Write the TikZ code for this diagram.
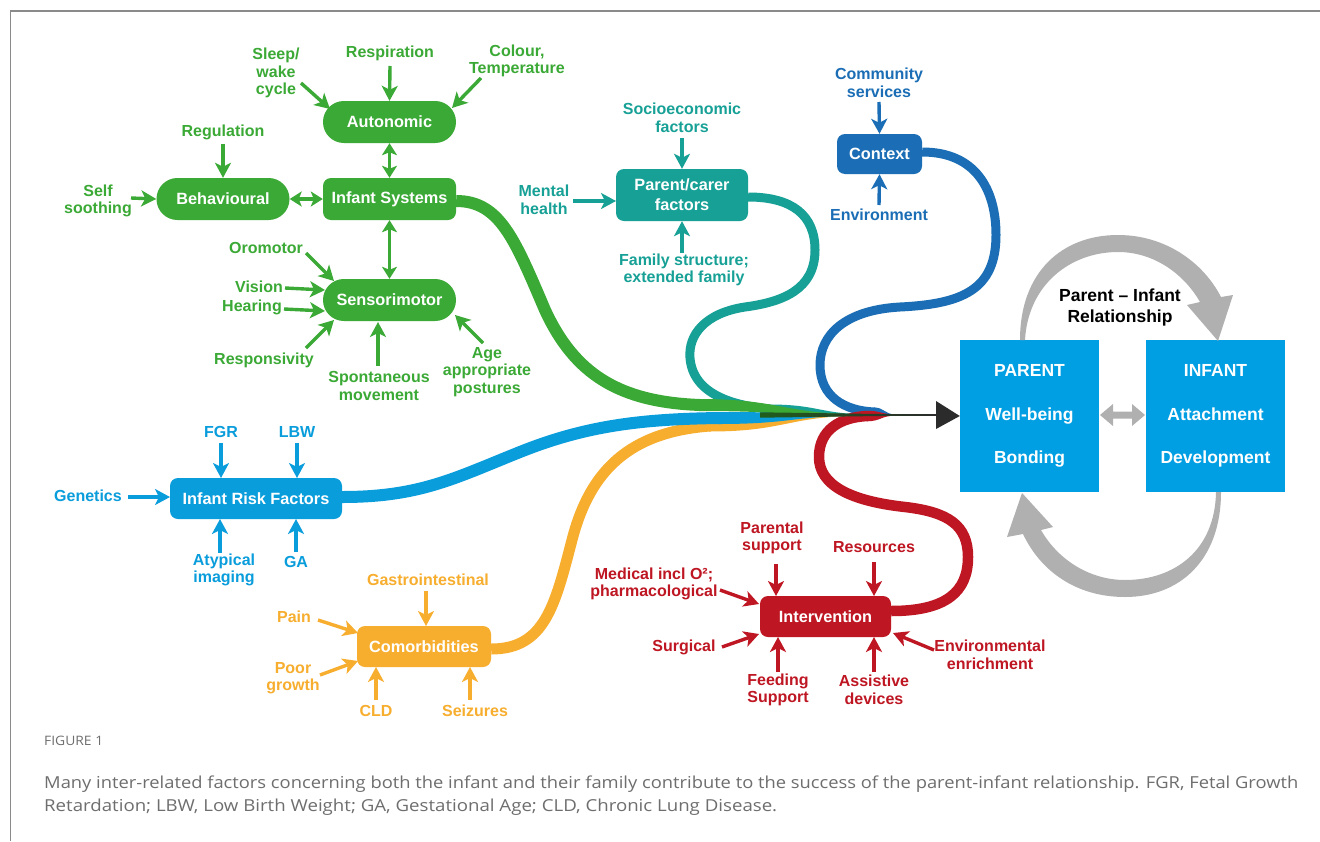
\documentclass[tikz,border=0pt]{standalone}
\usepackage{fontspec}
\setmainfont{Liberation Sans}
\newfontfamily\capfont{Open Sans}
\usetikzlibrary{arrows.meta,calc}
\definecolor{cgreen}{HTML}{3BA935}
\definecolor{cteal}{HTML}{17A196}
\definecolor{cctx}{HTML}{1B6EB5}
\definecolor{crisk}{HTML}{0A9DDC}
\definecolor{cbox}{HTML}{009FE3}
\definecolor{corange}{HTML}{F7AE2F}
\definecolor{cred}{HTML}{BE1622}
\definecolor{cgray}{HTML}{B0B0B0}
\definecolor{ccap}{HTML}{6E6E6E}
\definecolor{cframe}{HTML}{8A8A8A}
\definecolor{cdark}{HTML}{2B2B2B}
% colour, start x, start y, half width, end x
\newcommand\taperto[5]{%
  \fill[#1] (#2,{#3-#4}) .. controls ({(#2+#5)/2},{#3-#4}) and ({(#2+#5)/2},414.3) .. (#5,414.3)
    -- (#5,415.7) .. controls ({(#2+#5)/2},415.7) and ({(#2+#5)/2},{#3+#4}) .. (#2,{#3+#4}) -- cycle;}
\begin{document}
\begin{tikzpicture}[x=1pt,y=-1pt,
  lab/.style={font=\bfseries\fontsize{16}{17.5}\selectfont, align=center, inner sep=0pt},
  box/.style={font=\bfseries\fontsize{16.3}{20}\selectfont, text=white, align=center, inner sep=0pt,
              minimum height=42pt, rounded corners=8pt},
  pill/.style={box, rounded corners=20.9pt, minimum width=133pt},
  arr/.style={line width=3.4pt, -{Stealth[length=15pt,width=16pt,inset=4pt]}},
  darr/.style={line width=3.4pt, {Stealth[length=12pt,width=15pt,inset=3pt]}-{Stealth[length=12pt,width=15pt,inset=3pt]}},
  big/.style={fill=cbox, text=white, font=\bfseries\fontsize{17.5}{43.5}\selectfont, align=center,
              minimum width=139pt, minimum height=152pt, inner sep=0pt}
]
\useasboundingbox (0,0) rectangle (1320,841);
\fill[white] (0,0) rectangle (1320,841);
% frame
\draw[cframe, line width=1.6pt] (10,10.8) -- (1320,10.8);
\draw[cframe, line width=1pt] (10.5,10) -- (10.5,841);

% ---------------- boxes ----------------
\node[pill, fill=cgreen] (auto) at (389.5,122) {Autonomic};
\node[box, fill=cgreen, minimum width=133pt] (isys) at (389.5,199) {Infant Systems};
\node[pill, fill=cgreen] (beh) at (223,199) {Behavioural};
\node[pill, fill=cgreen] (sens) at (389.5,300) {Sensorimotor};
\node[box, fill=cteal, minimum width=132pt, minimum height=52pt] (pc) at (682,195) {Parent/carer\\factors};
\node[box, fill=cctx, minimum width=85pt, minimum height=40pt] (ctx) at (879.5,154) {Context};
\node[box, fill=crisk, minimum width=172pt, minimum height=41pt] (risk) at (256,498.5) {Infant Risk Factors};
\node[box, fill=corange, minimum width=134pt, minimum height=41pt] (com) at (424,646.5) {Comorbidities};
\node[box, fill=cred, minimum width=131pt, minimum height=41pt] (int) at (825.5,616.5) {Intervention};
\node[big] (parent) at (1029.5,416) {PARENT\\Well-being\\Bonding};
\node[big] (infant) at (1215.5,416) {INFANT\\Attachment\\Development};
\coordinate (conv) at (880,415);

% ---------------- streams ----------------
\draw[cteal, line width=9pt] ($(pc.east)+(0,2)$) .. controls (792,197) and (815,215) .. (815,250)
   .. controls (815,290) and (782,302) .. (745,307) .. controls (705,313) and (688,335) .. (690,358)
   .. controls (693,395) and (735,406) .. (770,409);
\taperto{cteal}{769}{409}{4.5}{870}
\draw[cctx, line width=9pt] ($(ctx.east)+(0,-2)$) .. controls (976,152) and (996,190) .. (996,235)
   .. controls (996,290) and (962,304) .. (900,307) .. controls (845,310) and (820,335) .. (820,365)
   .. controls (820,397) and (845,411) .. (875,412);
\taperto{cctx}{874}{412}{4.5}{895}
\draw[cred, line width=10.5pt] ($(int.east)+(0,-5.5)$) .. controls (946,611) and (968,592) .. (968,557)
   .. controls (968,525) and (948,512) .. (905,507) .. controls (850,501) and (819,485) .. (819,457)
   .. controls (819,430) and (840,417) .. (868,416);
\taperto{cred}{867}{416}{5.25}{895}
\draw[corange, line width=11pt] ($(com.east)+(0,2.5)$) .. controls (545,649) and (555,605) .. (572,540)
   .. controls (590,470) and (630,432) .. (710,426);
\taperto{corange}{709}{426}{5.5}{865}
\draw[crisk, line width=12pt] ($(risk.east)+(0,-1.5)$) .. controls (420,497) and (455,478) .. (520,452)
   .. controls (585,426) and (640,419) .. (720,418);
\taperto{crisk}{719}{418}{6}{865}
\draw[cgreen, line width=12pt] ($(isys.east)+(0,2)$) .. controls (500,201) and (515,240) .. (545,310)
   .. controls (575,375) and (620,402) .. (700,405);
\taperto{cgreen}{699}{405}{6}{865}
\shade[left color=cgreen!55!black, right color=cdark] (760,412.3) .. controls (820,413.3) .. (880,414)
   -- (936,414.2) -- (936,415.8) -- (880,416) .. controls (820,416.7) .. (760,417.7) -- cycle;
\fill[cdark] (936,401) -- (parent.west) -- (936,429) -- cycle;

% ---------------- green labels ----------------
\begin{scope}[cgreen]
\node[lab, text=cgreen] (sleep) at (276,73) {Sleep/\\wake\\cycle};
\node[lab, text=cgreen] (resp) at (390,53) {Respiration};
\node[lab, text=cgreen] (colour) at (517,61) {Colour,\\Temperature};
\node[lab, text=cgreen] (regul) at (223,132) {Regulation};
\node[lab, text=cgreen] (self) at (98,201) {Self\\soothing};
\node[lab, text=cgreen] (oro) at (266,248) {Oromotor};
\node[lab, text=cgreen] (vision) at (259,287) {Vision};
\node[lab, text=cgreen] (hear) at (252,307) {Hearing};
\node[lab, text=cgreen] (respons) at (264,360) {Responsivity};
\node[lab, text=cgreen] (spont) at (379,386) {Spontaneous\\movement};
\node[lab, text=cgreen] (age) at (487,372) {Age\\appropriate\\postures};
\draw[arr] ($(sleep)+(25,10)$) -- ($(auto)+(-59.5,-13)$);
\draw[arr] ($(resp)+(0,13)$) -- (auto.north);
\draw[arr] ($(colour)+(-36,17)$) -- ($(auto)+(62.5,-14)$);
\draw[arr] ($(regul)+(0,12)$) -- (beh.north);
\draw[arr] ($(self)+(33,-3)$) -- (beh.west);
\draw[darr] (beh.east) -- (isys.west);
\draw[darr] (auto.south) -- (isys.north);
\draw[darr] (isys.south) -- (sens.north);
\draw[arr] ($(oro)+(40,5)$) -- ($(sens)+(-55.5,-19)$);
\draw[arr] ($(vision)+(26,1)$) -- ($(sens)+(-64.5,-10)$);
\draw[arr] ($(hear)+(32,2)$) -- ($(sens)+(-64.5,11)$);
\draw[arr] ($(respons)+(42,-12)$) -- ($(sens)+(-55.5,20)$);
\draw[arr] ($(spont)+(-1,-20)$) -- ($(sens)+(-11.5,22)$);
\draw[arr] ($(age)+(-4,-29)$) -- ($(sens)+(65.5,15)$);
\end{scope}

% ---------------- teal ----------------
\begin{scope}[cteal]
\node[lab, text=cteal] (socio) at (682,118) {Socioeconomic\\factors};
\node[lab, text=cteal] (mental) at (544,200) {Mental\\health};
\node[lab, text=cteal] (family) at (684,270) {Family structure;\\extended family};
\draw[arr] ($(socio)+(0,20)$) -- (pc.north);
\draw[arr] ($(mental)+(29,1)$) -- ($(pc)+(-66,6)$);
\draw[arr] ($(family)+(-2,-17)$) -- ($(pc.south)$);
\end{scope}

% ---------------- context ----------------
\begin{scope}[cctx]
\node[lab, text=cctx] (comm) at (879,83) {Community\\services};
\node[lab, text=cctx] (env) at (879,215) {Environment};
\draw[arr] ($(comm)+(0,19)$) -- (ctx.north);
\draw[arr] ($(env)+(0,-10)$) -- (ctx.south);
\end{scope}

% ---------------- infant risk ----------------
\begin{scope}[crisk]
\node[lab, text=crisk] (fgr) at (221,432) {FGR};
\node[lab, text=crisk] (lbw) at (297,432) {LBW};
\node[lab, text=crisk] (gen) at (88,496) {Genetics};
\node[lab, text=crisk] (atyp) at (224,570) {Atypical\\imaging};
\node[lab, text=crisk] (ga) at (296,562) {GA};
\draw[arr] ($(fgr)+(0,11)$) -- ($(risk)+(-35,-20.5)$);
\draw[arr] ($(lbw)+(0,11)$) -- ($(risk)+(41,-20.5)$);
\draw[arr] ($(gen)+(40,1)$) -- ($(risk)+(-86,-1.5)$);
\draw[arr] ($(atyp)+(-4,-17)$) -- ($(risk)+(-36,20.5)$);
\draw[arr] ($(ga)+(0,-10)$) -- ($(risk)+(40,20.5)$);
\end{scope}

% ---------------- comorbidities ----------------
\begin{scope}[corange]
\node[lab, text=corange] (gastro) at (428,580) {Gastrointestinal};
\node[lab, text=corange] (pain) at (294,617) {Pain};
\node[lab, text=corange] (poor) at (293,678) {Poor\\growth};
\node[lab, text=corange] (cld) at (376,711) {CLD};
\node[lab, text=corange] (seiz) at (475,711) {Seizures};
\draw[arr] ($(gastro)+(-2,11)$) -- ($(com)+(2,-20.5)$);
\draw[arr] ($(pain)+(24,3)$) -- ($(com)+(-66,-13.5)$);
\draw[arr] ($(poor)+(27,-3)$) -- ($(com)+(-66,14.5)$);
\draw[arr] ($(cld)+(0,-11)$) -- ($(com)+(-48,20.5)$);
\draw[arr] ($(seiz)+(-5,-11)$) -- ($(com)+(46,20.5)$);
\end{scope}

% ---------------- intervention ----------------
\begin{scope}[cred]
\node[lab, text=cred] (parsup) at (772,538) {Parental\\support};
\node[lab, text=cred] (res) at (874,547) {Resources};
\node[lab, text=cred] (med) at (654,584) {Medical incl O²;\\pharmacological};
\node[lab, text=cred] (surg) at (684,647) {Surgical};
\node[lab, text=cred] (feed) at (778,690) {Feeding\\Support};
\node[lab, text=cred] (assist) at (874,690) {Assistive\\devices};
\node[lab, text=cred] (envenr) at (990,655) {Environmental\\enrichment};
\draw[arr] ($(parsup)+(4,26)$) -- ($(int)+(-49.5,-20.5)$);
\draw[arr] ($(res)+(0,15)$) -- ($(int)+(48.5,-20.5)$);
\draw[arr] ($(med)+(66,6)$) -- ($(int)+(-66.5,-12.5)$);
\draw[arr] ($(surg)+(38,0)$) -- ($(int)+(-66.5,17.5)$);
\draw[arr] ($(feed)+(0,-18)$) -- ($(int)+(-47.5,20.5)$);
\draw[arr] ($(assist)+(0,-18)$) -- ($(int)+(48.5,20.5)$);
\draw[arr] ($(envenr)+(-56,-5)$) -- ($(int)+(67.5,16.5)$);
\end{scope}

% ---------------- relationship ----------------
\node[font=\bfseries\fontsize{17.5}{21}\selectfont, align=center, inner sep=0pt] (rel) at (1120,307) {Parent -- Infant\\Relationship};
% top arc (parent -> infant)
\fill[cgray] (1020,340) .. controls (1020,272) and (1062,235) .. (1118,235)
   .. controls (1165,235) and (1203,262) .. (1221,297) -- (1233,295) -- (1218,341) -- (1187,305) -- (1200,302)
   .. controls (1184,274) and (1154,252) .. (1118,252) .. controls (1070,252) and (1028,285) .. (1025,340) -- cycle;
% bottom arc (infant -> parent)
\fill[cgray] (1221,492) .. controls (1221,560) and (1180,597) .. (1125,597)
   .. controls (1075,597) and (1040,570) .. (1023,534) -- (1007,537) -- (1022,493) -- (1053,527) -- (1041,530)
   .. controls (1058,560) and (1090,580) .. (1125,580) .. controls (1175,580) and (1215,550) .. (1216,492) -- cycle;
% double block arrow between boxes
\fill[cgray] (1100,415) -- (1113,404) -- (1113,411.5) -- (1132,411.5) -- (1132,404) -- (1145,415)
   -- (1132,426) -- (1132,418.5) -- (1113,418.5) -- (1113,426) -- cycle;

% ---------------- caption ----------------
\node[anchor=west, inner sep=0pt, text=ccap] (figlab) at (44,741)
  {\capfont\fontsize{13}{13}\selectfont\resizebox{59pt}{\height}{FIGURE 1}};
\node[anchor=west, inner sep=0pt, text=ccap] (cap1) at (44,784)
  {\capfont\fontsize{16.5}{17}\selectfont\resizebox{1254pt}{\height}{Many inter-related factors concerning both the infant and their family contribute to the success of the parent-infant relationship. FGR, Fetal Growth}};
\node[anchor=west, inner sep=0pt, text=ccap] (cap2) at (44,807)
  {\capfont\fontsize{16.5}{17}\selectfont\resizebox{733pt}{\height}{Retardation; LBW, Low Birth Weight; GA, Gestational Age; CLD, Chronic Lung Disease.}};
\end{tikzpicture}
\end{document}
